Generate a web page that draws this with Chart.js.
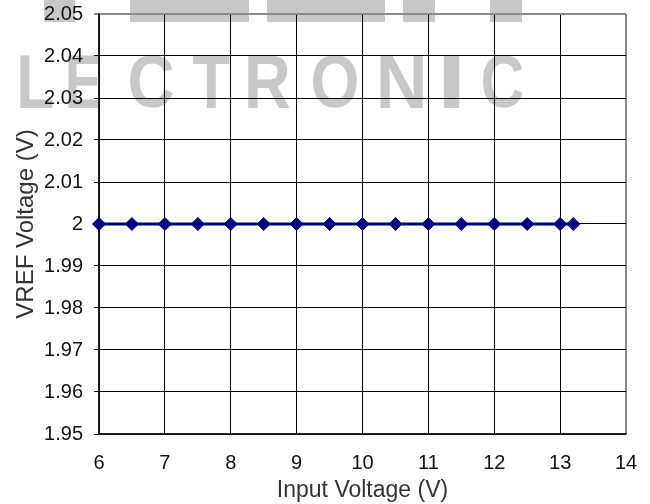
<!DOCTYPE html>
<html>
<head>
<meta charset="utf-8">
<title>VREF Voltage vs Input Voltage</title>
<script src="https://cdn.jsdelivr.net/npm/chart.js@4/dist/chart.umd.min.js"></script>
<style>
  html, body { margin: 0; padding: 0; background: #ffffff; }
  #wrap { width: 650px; height: 504px; }
</style>
</head>
<body>
<div id="wrap"><canvas id="chart" width="650" height="504"></canvas></div>
<script>
// Measured reference output across the input supply range
const inputVoltage = [6, 6.5, 7, 7.5, 8, 8.5, 9, 9.5, 10, 10.5, 11, 11.5, 12, 12.5, 13, 13.2];
const vrefVoltage  = [2, 2, 2, 2, 2, 2, 2, 2, 2, 2, 2, 2, 2, 2, 2, 2];

// Axis ranges and tick steps
const xTicks = { min: 6, max: 14, step: 1 };
const yTicks = { min: 1.95, max: 2.05, step: 0.01 };

const xTitle = 'Input Voltage (V)';
const yTitle = 'VREF Voltage (V)';
const brandText = 'LECTRONIC';

const FONT = "'Liberation Sans', Arial, Helvetica, sans-serif";

// Grey brand mark painted behind the grid
const brandMark = {
  id: 'brandMark',
  beforeDraw(chart) {
    const ctx = chart.ctx;
    ctx.save();
    ctx.fillStyle = '#c8c8c8';
    [[44, 75], [130, 249], [267, 385], [403, 435], [490, 522]].forEach(([a, b]) => {
      ctx.fillRect(a, 0, b - a, 22);
    });
    const boxes = [[20, 53], [68, 100], [130, 173], [193, 230], [248, 290], [313, 357], [380, 423], [443, 460], [483, 523]];
    const top = 55, bottom = 108;
    ctx.font = "bold 100px 'Liberation Sans Narrow', 'Liberation Sans', Arial, sans-serif";
    ctx.textBaseline = 'alphabetic';
    ctx.textAlign = 'left';
    brandText.split('').forEach((ch, i) => {
      const [x0, x1] = boxes[i];
      const m = ctx.measureText(ch);
      const w = m.actualBoundingBoxLeft + m.actualBoundingBoxRight;
      const h = m.actualBoundingBoxAscent + m.actualBoundingBoxDescent;
      ctx.save();
      ctx.translate(x0, top);
      ctx.scale((x1 - x0) / w, (bottom - top) / h);
      ctx.fillText(ch, m.actualBoundingBoxLeft, m.actualBoundingBoxAscent);
      ctx.restore();
    });
    ctx.restore();
  }
};

const yTickCount = Math.round((yTicks.max - yTicks.min) / yTicks.step);
const xTickCount = Math.round((xTicks.max - xTicks.min) / xTicks.step);

new Chart(document.getElementById('chart'), {
  type: 'line',
  data: {
    datasets: [{
      label: 'VREF',
      data: inputVoltage.map((x, i) => ({ x: x, y: vrefVoltage[i] })),
      borderColor: '#000080',
      backgroundColor: '#000080',
      borderWidth: 3,
      pointStyle: 'rectRot',
      pointRadius: 6.5,
      pointBackgroundColor: '#000080',
      pointBorderColor: '#000080',
      pointBorderWidth: 1,
      tension: 0,
      clip: false
    }]
  },
  options: {
    responsive: false,
    animation: false,
    layout: { padding: { left: 8, top: 0, right: 0, bottom: 0 } },
    plugins: {
      legend: { display: false },
      tooltip: { enabled: false }
    },
    scales: {
      x: {
        type: 'linear',
        min: xTicks.min,
        max: xTicks.max,
        afterFit(scale) {
          scale.height = 70;
          scale.paddingLeft = 0;
          scale.paddingRight = 24;
        },
        ticks: {
          stepSize: xTicks.step,
          padding: 17,
          color: '#111',
          font: { family: FONT, size: 20 },
          maxRotation: 0
        },
        grid: {
          drawTicks: false,
          color: c => (c.index === xTickCount ? '#8a8a8a' : '#000'),
          lineWidth: c => (c.index === xTickCount ? 2 : 1)
        },
        border: { color: '#222', width: 1.5 },
        title: {
          display: true,
          text: xTitle,
          color: '#333',
          font: { family: FONT, size: 23 },
          padding: { top: 0, bottom: 0 }
        }
      },
      y: {
        type: 'linear',
        min: yTicks.min,
        max: yTicks.max,
        afterFit(scale) {
          scale.width = 91;
          scale.paddingTop = 14;
          scale.paddingBottom = 0;
        },
        ticks: {
          stepSize: yTicks.step,
          padding: 11,
          color: '#111',
          font: { family: FONT, size: 20 },
          callback: v => String(parseFloat(Number(v).toFixed(2)))
        },
        grid: {
          tickLength: 5,
          color: c => (c.index === yTickCount ? '#8a8a8a' : '#000'),
          lineWidth: c => (c.index === yTickCount ? 2 : 1)
        },
        border: { color: '#222', width: 1.5 },
        title: {
          display: true,
          text: yTitle,
          color: '#333',
          font: { family: FONT, size: 24 },
          padding: { top: 4, bottom: 0 }
        }
      }
    }
  },
  plugins: [brandMark]
});
</script>
</body>
</html>
